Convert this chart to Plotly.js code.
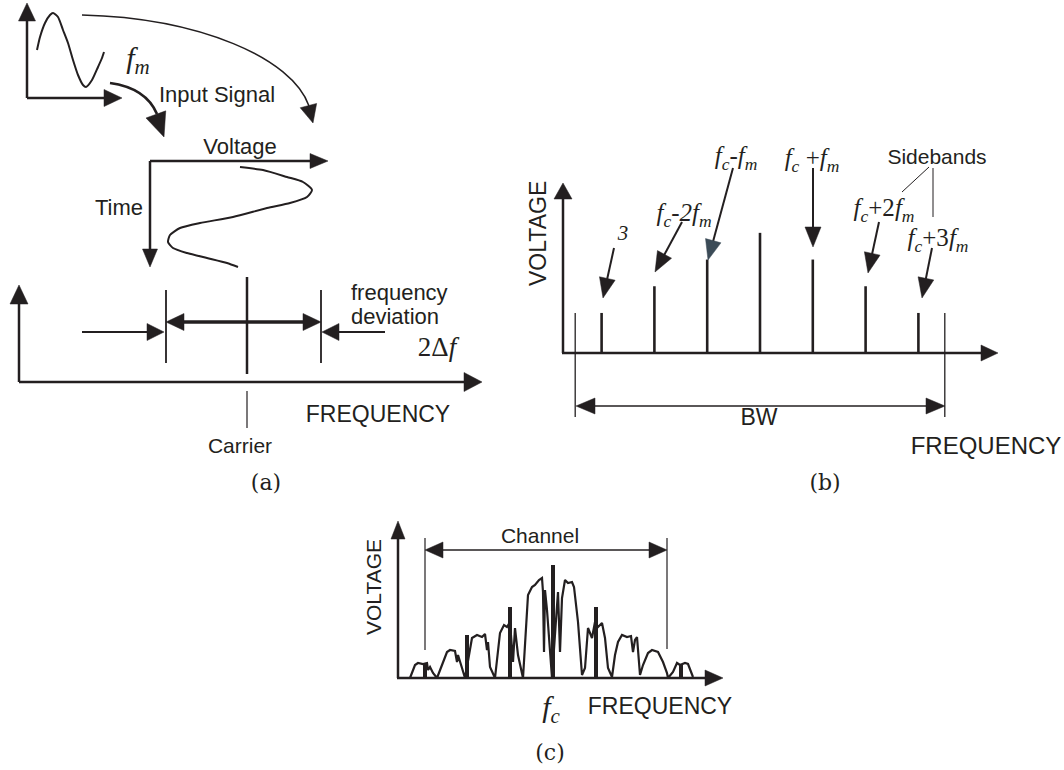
<!DOCTYPE html>
<html><head><meta charset="utf-8">
<script src="https://cdn.plot.ly/plotly-3.0.1.min.js"></script>
<style>html,body{margin:0;padding:0;background:#fff;overflow:hidden}</style>
</head><body><div id="chart" style="width:1064px;height:770px"></div>
<script>
// ---------- DATA ----------
// Panel (a): input signal, time vs voltage (arbitrary units)
const inputTime = [10,13,18,23,26,31,36,41,46,51,56,59,65,71,75,77];
const inputVolt = [48,61,75,83,85,81,68,55,38,23,13,11,18,31,40,46];
// Panel (a): FM waveform, voltage (horizontal) vs time (downwards)
const fmVolt = [90,113,137,153,162,157,140,117,83,50,30,20,18,23,37,57,77,88];
const fmTime = [6,9,16,21,29,36,42,47,56,62,67,74,81,87,92,97,102,106];
// Panel (b): sideband order n (multiples of fm around fc) and amplitude
const sidebandOrder = [-3,-2,-1,0,1,2,3];
const sidebandAmp   = [1.5,2.5,3.5,4.5,3.5,2.5,1.5];
const bwEdges = [-3.5, 3.5];
const sidebandLabels = ['<i>3</i>',
  '<i>f<sub>c</sub>-2f<sub>m</sub></i>',
  '<i>f<sub>c</sub>-f<sub>m</sub></i>',
  '<i>f<sub>c</sub></i> +<i>f<sub>m</sub></i>',
  '<i>f<sub>c</sub></i>+2<i>f<sub>m</sub></i>',
  '<i>f<sub>c</sub></i>+3<i>f<sub>m</sub></i>'];
// Panel (c): FM spectrum envelope (frequency offset from fc, voltage)
const specFreq = [-143,-138,-135,-130,-126,-125,-123,-120,-116,-111,-106,-103,-98,-96,-95,-91,-88,
  -81,-76,-71,-68,-66,-65,-63,-58,-53,-49,-46,-43,-40,-38,-35,-30,-25,-21,-18,-14,-11,-10,-9,-8,-6,-1,
  3,5,7,9,12,15,19,21,25,29,32,35,39,42,45,49,52,55,59,62,65,69,74,78,80,82,84,87,90,95,99,105,110,114,115,
  120,124,127,132,135,140];
const specAmp = [0,13,15,14,15,8,11,5,0,13,26,28,27,16,23,10,0,
  40,43,41,44,28,36,11,0,45,53,51,56,16,50,23,0,83,91,93,98,100,86,26,88,68,0,
  58,86,26,80,98,95,96,91,56,3,10,50,40,56,51,55,40,10,1,23,36,43,41,42,26,38,41,3,13,25,28,26,16,5,0,
  6,15,13,15,14,1];
const spikeFreq = [-128,-86,-43,0,43,128];
const spikeAmp  = [15,43,71,113,71,13];

// ---------- RENDERING ----------
const W = 1064, H = 770, INK = '#231f20';
const SANS = 'Liberation Sans, Arial, sans-serif';
const SERIF = 'Liberation Serif, Times New Roman, serif';
const SERIF2 = 'DejaVu Serif, serif';
function xr(o,s){return [(0-o)/s,(W-o)/s];}
function yUp(o,s){return [(o-H)/s,o/s];}
function yDown(o,s){return [(H-o)/s,-o/s];}
const hid = {visible:false, fixedrange:true, showgrid:false, zeroline:false};

const shapes = [], ann = [];
function seg(x1,y1,x2,y2,w){shapes.push({type:'line',xref:'x',yref:'y',x0:x1,y0:y1,x1:x2,y1:y2,line:{color:INK,width:w}});}
function head(tx,ty,fx,fy,len,wid,col){
  const dx=tx-fx, dy=ty-fy, L=Math.hypot(dx,dy), ux=dx/L, uy=dy/L;
  const bx=tx-ux*len, by=ty-uy*len, px=-uy, py=ux;
  shapes.push({type:'path',xref:'x',yref:'y',
    path:`M${tx},${ty} L${bx+px*wid/2},${by+py*wid/2} L${bx-px*wid/2},${by-py*wid/2} Z`,
    fillcolor:col||INK,line:{color:col||INK,width:0.5}});
}
function arrow(x1,y1,x2,y2,w,len,wid,col){
  const dx=x2-x1, dy=y2-y1, L=Math.hypot(dx,dy), ux=dx/L, uy=dy/L;
  seg(x1,y1,x2-ux*len*0.6,y2-uy*len*0.6,w); head(x2,y2,x1,y1,len,wid,col);
}
function dbl(x1,y1,x2,y2,w,len,wid){
  const dx=x2-x1, dy=y2-y1, L=Math.hypot(dx,dy), ux=dx/L, uy=dy/L;
  seg(x1+ux*len*0.6,y1+uy*len*0.6,x2-ux*len*0.6,y2-uy*len*0.6,w);
  head(x2,y2,x1,y1,len,wid); head(x1,y1,x2,y2,len,wid);
}
function curve(d,w){shapes.push({type:'path',xref:'x',yref:'y',path:d,fillcolor:'rgba(0,0,0,0)',line:{color:INK,width:w}});}
// horizontal texts collected into a text trace (page axis)
const T = {x:[],y:[],text:[],size:[],fam:[],pos:[]};
function txt(x,y,t,size,fam,pos){
  T.x.push(x); T.y.push(y+2); T.text.push(t); T.size.push(size); T.fam.push(fam||SANS); T.pos.push(pos||'middle center');
}
function vtxt(x,y,t,size){
  ann.push({x:x,y:y,xref:'x',yref:'y',text:t,showarrow:false,textangle:-90,xanchor:'center',yanchor:'middle',
    font:{family:SANS,size:size,color:INK}});
}

// ----- Panel (a) -----
arrow(27,98,27,3,2.5,18,17);
arrow(27,98,122,98,2.5,18,17);
curve('M82,15 C200,18 292,58 309,106',1.5);
head(313,123,308,104,18,17);
curve('M110,83 Q146,88 157,114',2.7);
head(164,137,155,112,24,21);
arrow(150,161,328,161,2.5,18,15);
arrow(150,161,150,267,2.5,18,15);
arrow(19,382,19,285,2.5,19,18);
arrow(19,382,482,382,2.5,18,19);
seg(247,277,247,374,2.5); seg(247,391,247,428,1.2);
seg(166,290,166,363,1.8); seg(321,290,321,363,1.8);
dbl(166,322,321,322,3.5,18,17);
arrow(82,332,164,332,1.8,17,17);
arrow(385,332,322,332,1.8,17,17);
txt(138,58,'<i>f<sub>m</sub></i>',30,SERIF);
txt(217,94,'Input Signal',22);
txt(240,146,'Voltage',22);
txt(119,207,'Time',22);
txt(351,292,'frequency',22,SANS,'middle right');
txt(351,316,'deviation',22,SANS,'middle right');
txt(437,347,'2Δ<i>f</i>',27,SERIF);
txt(378,414,'FREQUENCY',23);
txt(240,446,'Carrier',21);
txt(266,482,'(a)',22,SERIF2);

// ----- Panel (b) -----
arrow(563,353,563,183,2.5,16,18);
arrow(562,353,998,353,2.5,17,16);
dbl(576,406,945,406,1.3,19,16);
arrow(614,248,603,298,2,20,16);
arrow(682,222,655,272,2,20,16);
arrow(733,168,708,260,2,20,16,'#3b4b57');
arrow(813,168,813,247,2,20,16);
arrow(879,222,868,273,2,20,16);
arrow(932,248,922,298,2,20,16);
seg(929,167,902,192,1); seg(933,168,933,217,1);
vtxt(538,234,'VOLTAGE',23);
txt(623,233,sidebandLabels[0],21,SERIF);
txt(684,213,sidebandLabels[1],25,SERIF);
txt(736,156,sidebandLabels[2],25,SERIF);
txt(812,158,sidebandLabels[3],25,SERIF);
txt(884,208,sidebandLabels[4],25,SERIF);
txt(938,238,sidebandLabels[5],25,SERIF);
txt(937,157,'Sidebands',21);
txt(759,417,'BW',23);
txt(986,446,'FREQUENCY',24);
txt(825,482,'(b)',22,SERIF2);

// ----- Panel (c) -----
arrow(398,678,398,521,2.5,18,14);
arrow(397,678,723,678,2.5,18,16);
seg(425,538,425,650,1.2); seg(667,538,667,649,1.2);
dbl(425,550,667,550,1.3,18,16);
vtxt(373,587,'VOLTAGE',21);
txt(540,536,'Channel',21);
txt(551,707,'<i>f<sub>c</sub></i>',30,SERIF);
txt(660,706,'FREQUENCY',23);
txt(550,752,'(c)',22,SERIF2);

// ----- traces -----
const sbX=[], sbY=[];
sidebandOrder.forEach((n,i)=>{sbX.push(n,n,null); sbY.push(0,sidebandAmp[i],null);});
const bwX=[], bwY=[];
bwEdges.forEach(n=>{bwX.push(n,n,null); bwY.push(-2.4,sidebandAmp[0],null);});
const spX=[], spY=[];
spikeFreq.forEach((f,i)=>{spX.push(f,f,null); spY.push(0,spikeAmp[i],null);});

const traces = [
  {x:inputTime,y:inputVolt,xaxis:'x3',yaxis:'y3',mode:'lines',line:{color:INK,width:2,shape:'spline',smoothing:0.6}},
  {x:fmVolt,y:fmTime,xaxis:'x4',yaxis:'y4',mode:'lines',line:{color:INK,width:2,shape:'spline',smoothing:0.6}},
  {x:sbX,y:sbY,xaxis:'x2',yaxis:'y2',mode:'lines',line:{color:INK,width:2.6}},
  {x:bwX,y:bwY,xaxis:'x2',yaxis:'y2',mode:'lines',line:{color:INK,width:1.3}},
  {x:specFreq,y:specAmp,xaxis:'x5',yaxis:'y5',mode:'lines',line:{color:INK,width:2.2}},
  {x:spX,y:spY,xaxis:'x5',yaxis:'y5',mode:'lines',line:{color:INK,width:4}},
  {x:T.x,y:T.y,text:T.text,mode:'text',textposition:T.pos,cliponaxis:false,
   textfont:{family:T.fam,size:T.size,color:INK},xaxis:'x',yaxis:'y'}
];

const layout = {
  width:W,height:H,margin:{l:0,r:0,t:0,b:0,pad:0},
  font:{family:SANS,size:22,color:INK},
  paper_bgcolor:'#fff',plot_bgcolor:'#fff',showlegend:false,hovermode:false,
  xaxis:Object.assign({},hid,{range:[0,W],domain:[0,1]}),
  yaxis:Object.assign({},hid,{range:[H,0],domain:[0,1]}),
  xaxis2:Object.assign({},hid,{range:xr(760,52.8),overlaying:'x'}),
  yaxis2:Object.assign({},hid,{range:yUp(353,26.7),overlaying:'y'}),
  xaxis3:Object.assign({},hid,{range:xr(27,1),overlaying:'x'}),
  yaxis3:Object.assign({},hid,{range:yUp(98,1),overlaying:'y'}),
  xaxis4:Object.assign({},hid,{range:xr(150,1),overlaying:'x'}),
  yaxis4:Object.assign({},hid,{range:yDown(161,1),overlaying:'y'}),
  xaxis5:Object.assign({},hid,{range:xr(553,1),overlaying:'x'}),
  yaxis5:Object.assign({},hid,{range:yUp(678,1),overlaying:'y'}),
  shapes:shapes, annotations:ann
};
Plotly.newPlot('chart',traces,layout,{staticPlot:true,displayModeBar:false});
</script></body></html>
